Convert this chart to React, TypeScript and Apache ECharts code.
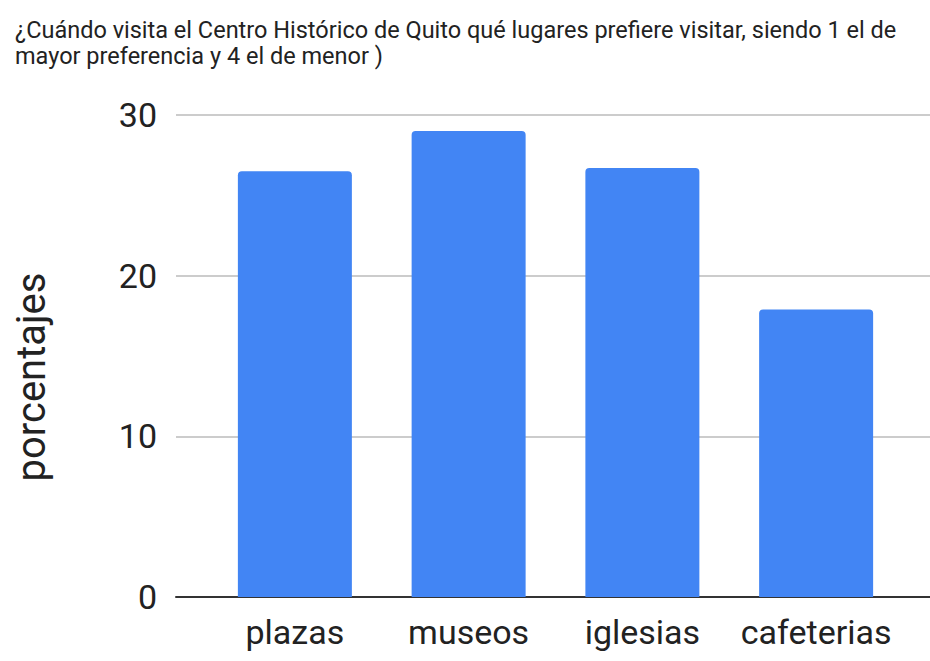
import React, { useEffect, useRef } from "react";
import * as echarts from "echarts";

const titleText =
  "¿Cuándo visita el Centro Histórico de Quito qué lugares prefiere visitar, siendo 1 el de\nmayor preferencia y 4 el de menor )";
const yAxisName = "porcentajes";
const categories = ["plazas", "museos", "iglesias", "cafeterias"];
const values = [26.5, 29.0, 26.7, 17.9];
const yMin = 0;
const yMax = 30;
const yInterval = 10;

export default function App() {
  const ref = useRef<HTMLDivElement>(null);
  useEffect(() => {
    document.body.style.margin = "0";
    const chart = echarts.init(ref.current!, null, { renderer: "svg" });
    const font = "Roboto, Arial, sans-serif";
    chart.setOption({
      animation: false,
      backgroundColor: "#ffffff",
      title: {
        text: titleText,
        left: 10,
        top: 12,
        textStyle: {
          fontFamily: font,
          fontSize: 23.5,
          fontWeight: "normal",
          color: "#222222",
          lineHeight: 26,
        },
      },
      graphic: [
        {
          type: "text",
          x: 31,
          y: 377,
          rotation: Math.PI / 2,
          style: {
            text: yAxisName,
            fontFamily: font,
            fontSize: 40,
            fill: "#222222",
            align: "center",
            verticalAlign: "middle",
          },
        },
      ],
      grid: [
        { left: 176, right: 0, top: 115, bottom: 64 },
        { left: 208, right: 27, top: 115, bottom: 64 },
      ],
      xAxis: [
        {
          gridIndex: 0,
          type: "value",
          min: 0,
          max: 1,
          axisLine: { show: true, onZero: false, lineStyle: { color: "#333333", width: 2 } },
          axisTick: { show: false },
          axisLabel: { show: false },
          splitLine: { show: false },
        },
        {
          gridIndex: 1,
          type: "category",
          data: categories,
          axisLine: { show: false },
          axisTick: { show: false },
          axisLabel: {
            interval: 0,
            fontFamily: font,
            fontSize: 34,
            color: "#222222",
            margin: 18,
          },
        },
      ],
      yAxis: [
        {
          gridIndex: 0,
          type: "value",
          min: yMin,
          max: yMax,
          interval: yInterval,
          axisLine: { show: false },
          axisTick: { show: false },
          axisLabel: {
            fontFamily: font,
            fontSize: 34,
            color: "#222222",
            margin: 19,
          },
          splitLine: { show: true, lineStyle: { color: "#cccccc", width: 2 } },
        },
        {
          gridIndex: 1,
          type: "value",
          min: yMin,
          max: yMax,
          interval: yInterval,
          show: false,
          splitLine: { show: false },
        },
      ],
      series: [
        {
          type: "bar",
          xAxisIndex: 1,
          yAxisIndex: 1,
          data: values,
          barWidth: 114,
          itemStyle: { color: "#4285f4", borderRadius: [4, 4, 0, 0] },
          z: 3,
        },
      ],
    });
    return () => chart.dispose();
  }, []);
  return <div ref={ref} style={{ width: 930, height: 661 }} />;
}
